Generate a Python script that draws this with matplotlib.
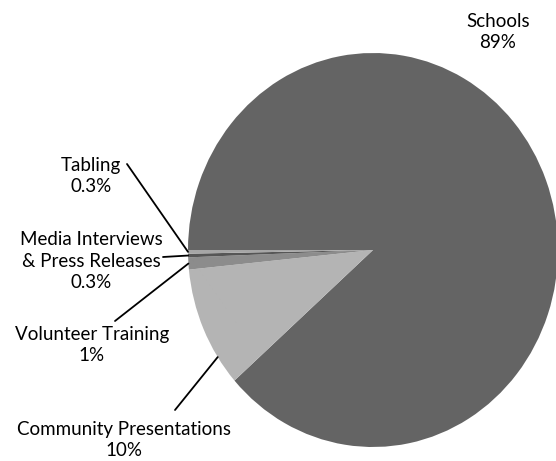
import numpy as np
import matplotlib
matplotlib.use("Agg")
import matplotlib.pyplot as plt

categories = ["Schools", "Community Presentations", "Volunteer Training",
              "Media Interviews\n& Press Releases", "Tabling"]
values = [89, 10, 1, 0.3, 0.3]
pct_labels = ["89%", "10%", "1%", "0.3%", "0.3%"]
colors = ["#646464", "#b4b4b4", "#8c8c8c", "#565656", "#a6a6a6"]

W, H = 556, 461
fig = plt.figure(figsize=(W / 100, H / 100), dpi=100)
plt.rcParams['font.family'] = ['Lato', 'DejaVu Sans']

# pie axes (slightly squashed ellipse as in the reference)
ax = fig.add_axes([188 / W, (H - 447) / H, 370 / W, 394 / H])
wedges, _ = ax.pie(values, colors=colors, startangle=180, counterclock=False,
                   radius=1, wedgeprops=dict(linewidth=0))
ax.set_aspect('auto')
ax.set_xlim(-1, 1)
ax.set_ylim(-1, 1)
ax.axis('off')

# label layout (pixel centers, top-left origin)
label_pos = {
    "Schools": (498, 32),
    "Community Presentations": (124, 440),
    "Volunteer Training": (92, 345),
    "Media Interviews\n& Press Releases": (91, 261),
    "Tabling": (91, 176),
}
line_start = {
    "Community Presentations": (175, 410),
    "Volunteer Training": (115, 321),
    "Media Interviews\n& Press Releases": (163, 257),
    "Tabling": (127, 164),
}
edge_frac = {
    "Community Presentations": 0.76,
    "Volunteer Training": 0.5,
    "Media Interviews\n& Press Releases": 0.5,
    "Tabling": 0.5,
}

for w, cat, pct in zip(wedges, categories, pct_labels):
    x, y = label_pos[cat]
    fig.text(x / W, 1 - y / H, f"{cat}\n{pct}", ha='center', va='center',
             fontsize=13.5, linespacing=1.32, color='black')
    if cat in line_start:
        f = edge_frac[cat]
        ang = np.deg2rad(w.theta1 + f * (w.theta2 - w.theta1))
        sx, sy = line_start[cat]
        ax.annotate("", xy=(np.cos(ang), np.sin(ang)), xycoords='data',
                    xytext=(sx, H - sy), textcoords='figure pixels',
                    annotation_clip=False,
                    arrowprops=dict(arrowstyle='-', lw=1.3, color='black',
                                    shrinkA=0, shrinkB=0))

fig.savefig("out.png", dpi=100)
